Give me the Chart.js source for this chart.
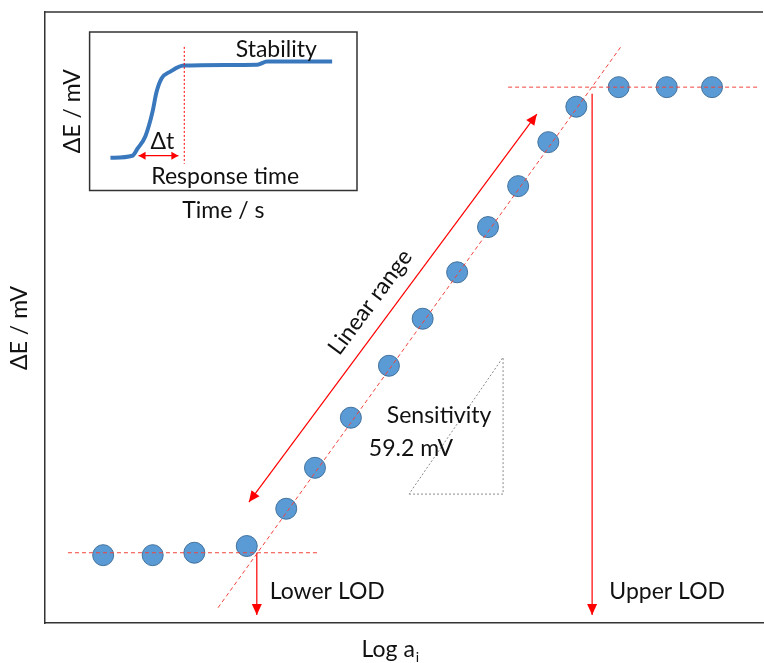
<!DOCTYPE html>
<html>
<head>
<meta charset="utf-8">
<script src="https://cdn.jsdelivr.net/npm/chart.js@4"></script>
<style>
  html, body { margin: 0; padding: 0; background: #fff; }
  #wrap { position: relative; width: 764px; height: 663px; }
  #main { position: absolute; left: 0; top: 0; }
  #inset { position: absolute; left: 50px; top: 30px; }
</style>
</head>
<body>
<div id="wrap">
  <canvas id="main" width="764" height="663"></canvas>
  <canvas id="inset" width="310" height="202"></canvas>
</div>
<script>
// --- calibration curve (schematic units, 0..100 on both axes) ---
const logA   = [8.1, 15.0, 20.8, 28.1, 33.6, 37.6, 42.6, 47.9, 52.6, 57.4, 61.7, 65.9, 70.1, 74.0, 79.9, 86.6, 92.9];
const deltaE = [11.1, 11.1, 11.5, 12.6, 18.7, 25.4, 33.6, 42.1, 49.8, 57.4, 64.8, 71.5, 78.7, 84.5, 87.7, 87.7, 87.7];

// guide lines / arrows, same units
const lowerBaseline = [{x: 3.2, y: 11.5}, {x: 38.0, y: 11.5}];
const upperBaseline = [{x: 64.5, y: 87.7}, {x: 99.3, y: 87.7}];
const fitLine       = [{x: 24.1, y: 2.5}, {x: 80.2, y: 94.3}];
const lowerLOD      = [{x: 29.5, y: 11.5}, {x: 29.5, y: 1.3}];
const upperLOD      = [{x: 76.2, y: 86.6}, {x: 76.2, y: 1.3}];
const linearRange   = [{x: 28.4, y: 19.8}, {x: 68.5, y: 83.3}];
const slopeTriangle = [{x: 50.7, y: 21.1}, {x: 63.8, y: 21.1}, {x: 63.8, y: 43.5}, {x: 50.7, y: 21.1}];

// --- inset: response curve ---
const timeS     = [7.8, 16.0, 17.9, 20.9, 23.5, 25.0, 26.9, 30.2, 35.1, 62.7, 66.4, 90.7];
const responseE = [20.6, 21.9, 26.3, 34.4, 49.4, 61.9, 70.6, 75.0, 78.8, 79.4, 81.3, 81.3];
const responseMark = [{x: 35.4, y: 90.6}, {x: 35.4, y: 16.9}];
const dtArrow      = [{x: 18.3, y: 21.9}, {x: 33.2, y: 21.9}];

const RED = '#ff0000';
const TXT = '#111';
const FONT = 'Lato, "Open Sans", sans-serif';
const FSIZE = 23;

function arrowHead(ctx, x0, y0, x1, y1, len, half, color) {
    const a = Math.atan2(y1 - y0, x1 - x0);
    ctx.save();
    ctx.fillStyle = color;
    ctx.beginPath();
    ctx.moveTo(x1, y1);
    ctx.lineTo(x1 - len * Math.cos(a) + half * Math.sin(a), y1 - len * Math.sin(a) - half * Math.cos(a));
    ctx.lineTo(x1 - len * Math.cos(a) - half * Math.sin(a), y1 - len * Math.sin(a) + half * Math.cos(a));
    ctx.closePath();
    ctx.fill();
    ctx.restore();
}

// arrow heads for datasets that ask for them
const arrowPlugin = {
    id: 'arrows',
    afterDatasetsDraw(chart) {
        const {ctx, scales: {x, y}} = chart;
        chart.data.datasets.forEach(ds => {
            if (!ds.arrows) return;
            const p = ds.data.map(d => [x.getPixelForValue(d.x), y.getPixelForValue(d.y)]);
            const n = p.length;
            const [len, half] = ds.arrowSize || [11, 5];
            if (ds.arrows.includes('end')) arrowHead(ctx, p[n - 2][0], p[n - 2][1], p[n - 1][0], p[n - 1][1], len, half, ds.borderColor);
            if (ds.arrows.includes('start')) arrowHead(ctx, p[1][0], p[1][1], p[0][0], p[0][1], len, half, ds.borderColor);
        });
    }
};

// free text placed in data units (also used for the main axis titles)
const notesPlugin = {
    id: 'notes',
    afterDraw(chart, args, opts) {
        const {ctx, scales: {x, y}} = chart;
        (opts.items || []).forEach(n => {
            const px = x.getPixelForValue(n.x), py = y.getPixelForValue(n.y);
            ctx.save();
            ctx.font = (n.size || FSIZE) + 'px ' + FONT;
            ctx.fillStyle = TXT;
            ctx.textAlign = n.align || 'left';
            ctx.textBaseline = 'middle';
            ctx.translate(px, py);
            if (n.along) {
                const a = n.along;
                ctx.rotate(Math.atan2(y.getPixelForValue(a[1].y) - y.getPixelForValue(a[0].y),
                                      x.getPixelForValue(a[1].x) - x.getPixelForValue(a[0].x)));
            } else if (n.rotate) {
                ctx.rotate(n.rotate * Math.PI / 180);
            }
            ctx.fillText(n.text, 0, 0);
            if (n.sub) {
                const w = ctx.measureText(n.text).width;
                const off = n.align === 'center' ? w / 2 : w;
                ctx.font = Math.round((n.size || FSIZE) * 0.62) + 'px ' + FONT;
                ctx.textAlign = 'left';
                ctx.fillText(n.sub, off + 1, 8);
            }
            ctx.restore();
        });
    }
};

// top border of the main frame / full box of the inset
const framePlugin = {
    id: 'frame',
    afterDraw(chart, args, opts) {
        const {ctx, chartArea: a} = chart;
        ctx.save();
        ctx.strokeStyle = '#333';
        ctx.lineWidth = 1.5;
        ctx.beginPath();
        if (opts.box) {
            ctx.rect(a.left, a.top, a.right - a.left, a.bottom - a.top);
        } else {
            ctx.moveTo(a.left, a.top);
            ctx.lineTo(a.right, a.top);
        }
        ctx.stroke();
        ctx.restore();
    }
};

function guide(data, extra) {
    return Object.assign({
        type: 'scatter', data, showLine: true, pointRadius: 0,
        borderColor: '#f0443c', borderWidth: 1, borderDash: [4, 3], order: 1
    }, extra || {});
}

function axis(pos, title, pad, showBorder) {
    return {
        type: 'linear', position: pos, min: 0, max: 100,
        ticks: { display: false },
        grid: { display: false, drawTicks: false },
        border: { display: showBorder, color: '#333', width: 1.5 },
        title: { display: !!title, text: title, color: TXT, font: { family: FONT, size: FSIZE }, padding: pad }
    };
}

new Chart(document.getElementById('main'), {
    type: 'scatter',
    data: {
        datasets: [
            guide(lowerBaseline),
            guide(upperBaseline),
            guide(fitLine),
            guide(lowerLOD, { borderDash: [], borderColor: RED, borderWidth: 1.2, arrows: ['end'] }),
            guide(upperLOD, { borderDash: [], borderColor: RED, borderWidth: 1.2, arrows: ['end'] }),
            guide(linearRange, { borderDash: [], borderColor: RED, borderWidth: 1.2, arrows: ['start', 'end'] }),
            guide(slopeTriangle, { borderColor: '#8a8a8a', borderDash: [2, 2] }),
            {
                label: 'ΔE',
                data: logA.map((v, i) => ({x: v, y: deltaE[i]})),
                backgroundColor: '#5b9bd5',
                borderColor: '#41719c',
                borderWidth: 1,
                pointRadius: 10.5,
                order: 5
            }
        ]
    },
    options: {
        responsive: false,
        animation: false,
        layout: { autoPadding: false, padding: { top: 12, right: 1, left: 45, bottom: 40 } },
        plugins: {
            legend: { display: false },
            tooltip: { enabled: false },
            notes: { items: [
                { text: 'Linear range', x: 45.3, y: 52.5, align: 'center', along: linearRange },
                { text: 'Sensitivity', x: 47.6, y: 34.0 },
                { text: '59.2 mV', x: 45.1, y: 28.5 },
                { text: 'Lower LOD', x: 31.3, y: 5.1 },
                { text: 'Upper LOD', x: 78.6, y: 5.1 },
                { text: 'Log a', sub: 'i', x: 47.8, y: -4.3, align: 'center' },
                { text: 'ΔE / mV', x: -3.5, y: 48.3, align: 'center', rotate: -90 }
            ] },
            frame: { box: false }
        },
        scales: {
            x: axis('bottom', '', 0, true),
            y: axis('left', '', 0, true),
            x2: axis('top', '', 0, false)
        }
    },
    plugins: [arrowPlugin, notesPlugin, framePlugin]
});

new Chart(document.getElementById('inset'), {
    type: 'scatter',
    data: {
        datasets: [
            guide(responseMark, { borderColor: RED, borderDash: [2, 2] }),
            guide(dtArrow, { borderDash: [], borderColor: RED, borderWidth: 1.2, arrows: ['start', 'end'], arrowSize: [7, 4] }),
            {
                label: 'ΔE',
                data: timeS.map((v, i) => ({x: v, y: responseE[i]})),
                showLine: true,
                borderColor: '#3a78bd',
                borderWidth: 4,
                pointRadius: 0,
                cubicInterpolationMode: 'monotone',
                order: 5
            }
        ]
    },
    options: {
        responsive: false,
        animation: false,
        layout: { autoPadding: false, padding: { top: 2, right: 3 } },
        plugins: {
            legend: { display: false },
            tooltip: { enabled: false },
            notes: { items: [
                { text: 'Stability', x: 69.8, y: 88.8, align: 'center' },
                { text: 'Δt', x: 27.2, y: 30.6, align: 'center' },
                { text: 'Response time', x: 50.7, y: 8.75, align: 'center' }
            ] },
            frame: { box: true }
        },
        scales: {
            x: axis('bottom', 'Time / s', { top: 6, bottom: 8 }, false),
            y: axis('left', 'ΔE / mV', { top: 9, bottom: 3 }, false)
        }
    },
    plugins: [arrowPlugin, notesPlugin, framePlugin]
});
</script>
</body>
</html>
